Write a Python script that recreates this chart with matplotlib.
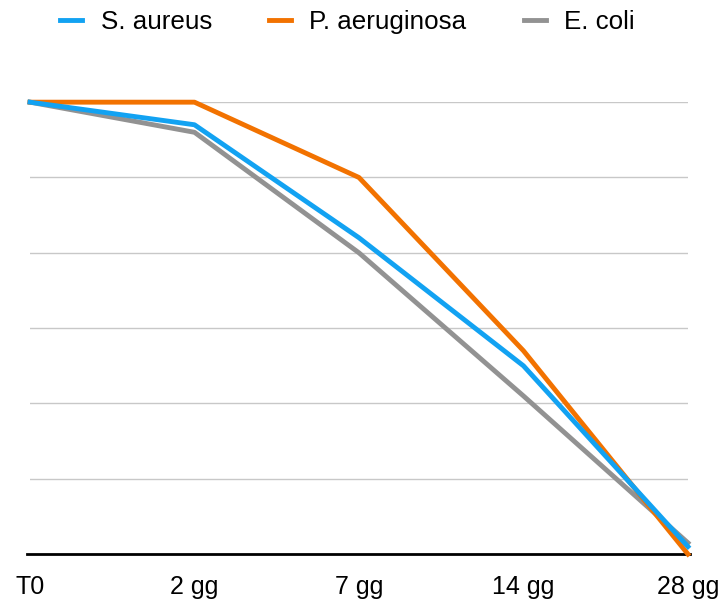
import matplotlib.pyplot as plt

# Data
days = ['T0', '2 gg', '7 gg', '14 gg', '28 gg']
s_aureus = [6.0, 5.7, 4.2, 2.5, 0.1]
p_aeruginosa = [6.0, 6.0, 5.0, 2.7, 0.0]
e_coli = [6.0, 5.6, 4.0, 2.1, 0.15]

plt.rcParams['font.family'] = ['Liberation Sans', 'DejaVu Sans']

fig = plt.figure(figsize=(7.23, 6.01), dpi=100)
ax = fig.add_axes([0.0415, 0.078, 0.91, 0.752])

x = range(len(days))
ax.plot(x, e_coli, color='#929292', lw=3.5, label='E. coli', clip_on=False, zorder=3)
ax.plot(x, p_aeruginosa, color='#F27200', lw=3.5, label='P. aeruginosa', clip_on=False, zorder=4)
ax.plot(x, s_aureus, color='#12A2F2', lw=3.5, label='S. aureus', clip_on=False, zorder=5)

# Horizontal gridlines, no y labels
ax.set_ylim(0, 6)
ax.set_xlim(0, len(days) - 1)
ax.set_yticks(range(1, 7))
ax.yaxis.grid(True, color='#C8C8C8', lw=1)
ax.tick_params(axis='y', length=0, labelleft=False)
ax.set_xticks(list(x))
ax.set_xticklabels(days, fontsize=18)
ax.tick_params(axis='x', length=0, pad=15)

for side in ['top', 'right', 'left']:
    ax.spines[side].set_visible(False)
ax.spines['bottom'].set_color('black')
ax.spines['bottom'].set_linewidth(2)
ax.spines['bottom'].set_bounds(-0.02, 4.01)
ax.spines['bottom'].set_zorder(2)

handles, labels = ax.get_legend_handles_labels()
order = [2, 1, 0]
fig.legend([handles[i] for i in order], [labels[i] for i in order],
           loc='upper left', bbox_to_anchor=(0.051, 1.022), ncol=3, frameon=False,
           fontsize=18.7, handlelength=0.85, handletextpad=0.7, columnspacing=2.2)

plt.savefig('out.png', dpi=100)
